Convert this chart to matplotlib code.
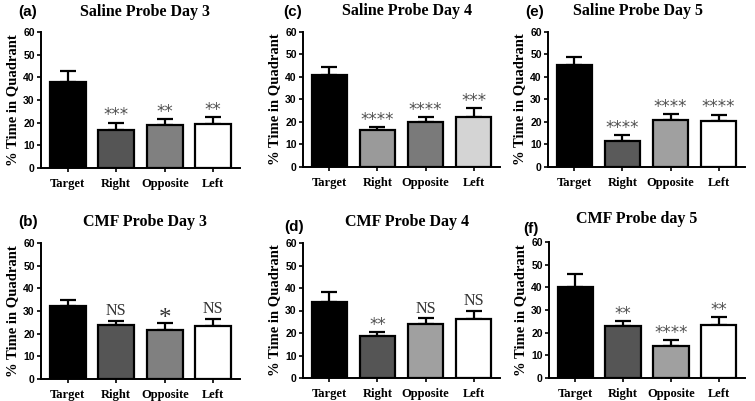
import matplotlib.pyplot as plt

categories = ["Target", "Right", "Opposite", "Left"]

titles = ["Saline Probe Day 3", "Saline Probe Day 4", "Saline Probe Day 5",
          "CMF Probe Day 3", "CMF Probe Day 4", "CMF Probe day 5"]
panel_labels = ["(a)", "(c)", "(e)", "(b)", "(d)", "(f)"]

means_sal3 = [38.0, 16.8, 19.0, 19.3]
sem_sal3 = [5.0, 3.2, 2.5, 3.0]
sig_sal3 = ["", "***", "**", "**"]

means_sal4 = [40.8, 16.5, 20.0, 22.0]
sem_sal4 = [3.7, 1.3, 2.0, 4.0]
sig_sal4 = ["", "****", "****", "***"]

means_sal5 = [45.2, 11.5, 21.0, 20.3]
sem_sal5 = [3.8, 2.5, 2.5, 3.0]
sig_sal5 = ["", "****", "****", "****"]

means_cmf3 = [32.0, 23.8, 21.5, 23.3]
sem_cmf3 = [3.0, 1.7, 3.0, 3.2]
sig_cmf3 = ["", "NS", "*", "NS"]

means_cmf4 = [34.0, 18.7, 24.0, 26.3]
sem_cmf4 = [4.2, 1.8, 2.5, 3.7]
sig_cmf4 = ["", "**", "NS", "NS"]

means_cmf5 = [40.3, 22.8, 14.2, 23.3]
sem_cmf5 = [5.5, 2.2, 2.6, 3.7]
sig_cmf5 = ["", "**", "****", "**"]

all_means = [means_sal3, means_sal4, means_sal5, means_cmf3, means_cmf4, means_cmf5]
all_sem = [sem_sal3, sem_sal4, sem_sal5, sem_cmf3, sem_cmf4, sem_cmf5]
all_sig = [sig_sal3, sig_sal4, sig_sal5, sig_cmf3, sig_cmf4, sig_cmf5]

colors = [
    ["black", "#555555", "#808080", "white"],
    ["black", "#9a9a9a", "#7a7a7a", "#d4d4d4"],
    ["black", "#5a5a5a", "#a0a0a0", "white"],
    ["black", "#555555", "#808080", "white"],
    ["black", "#555555", "#a0a0a0", "white"],
    ["black", "#555555", "#a0a0a0", "white"],
]

W, H = 755, 401
fig = plt.figure(figsize=(W / 100, H / 100), dpi=100)

# axes placement in pixels: (left, top of 60, bottom at 0, right)
boxes = [(41, 32, 168, 240), (303, 32, 167, 500), (548, 32, 167, 745),
         (41, 243, 379, 240), (303, 243, 378, 500), (549, 242, 378, 745)]
title_pos = [(145, 12), (407, 11), (638, 11), (145, 222), (407, 222), (637, 219)]
label_pos = [(28, 12), (293, 12), (535, 12), (28, 222), (294, 227), (531, 229)]

serif = "Liberation Serif"
sans = "Liberation Sans"

for i in range(6):
    l, t, b, r = boxes[i]
    ax = fig.add_axes([l / W, 1 - b / H, (r - l) / W, (b - t) / H])
    x = range(len(categories))
    ax.bar(x, all_means[i], width=0.74, color=colors[i], edgecolor="black",
           linewidth=1.6, zorder=2)
    ax.errorbar(x, all_means[i], yerr=[[0] * 4, all_sem[i]], fmt="none",
                ecolor="black", elinewidth=1.6, capsize=5.5, capthick=1.6, zorder=1)
    for j, s in enumerate(all_sig[i]):
        if not s:
            continue
        top = all_means[i][j] + all_sem[i][j]
        if s == "NS":
            ax.text(j, top + 0.8, s, ha="center", va="bottom", family=serif,
                    fontsize=11.5, color="#333333")
        elif s == "*":
            ax.text(j, top - 3.0, s, ha="center", va="bottom", family=serif,
                    fontsize=18, color="#333333")
        else:
            ax.text(j, top - 0.8, s, ha="center", va="bottom",
                    family="DejaVu Sans", fontsize=12, color="#505050")
    ax.set_ylim(0, 60)
    ax.set_xlim(-0.55, 3.55)
    ax.set_yticks(range(0, 61, 10))
    ax.set_xticks(list(x))
    ax.set_xticklabels(categories, family=serif, fontweight="bold", fontsize=9)
    for lab in ax.get_yticklabels():
        lab.set_family(sans)
        lab.set_fontweight("bold")
        lab.set_fontsize(7.5)
    ax.tick_params(axis="y", length=3, width=1.2, pad=1.5)
    ax.tick_params(axis="x", length=3, width=1.2, pad=4)
    ax.spines["top"].set_visible(False)
    ax.spines["right"].set_visible(False)
    ax.spines["left"].set_linewidth(1.4)
    ax.spines["bottom"].set_linewidth(1.4)
    ax.set_ylabel("% Time in Quadrant", family=serif, fontweight="bold",
                  fontsize=10.5, labelpad=3)
    tx, ty = title_pos[i]
    fig.text(tx / W, 1 - ty / H, titles[i], ha="center", va="center",
             family=serif, fontweight="bold", fontsize=11.5)
    px, py = label_pos[i]
    fig.text(px / W, 1 - py / H, panel_labels[i], ha="center", va="center",
             family=sans, fontsize=11, fontweight="bold")

fig.savefig("out.png", dpi=100, facecolor="white")
